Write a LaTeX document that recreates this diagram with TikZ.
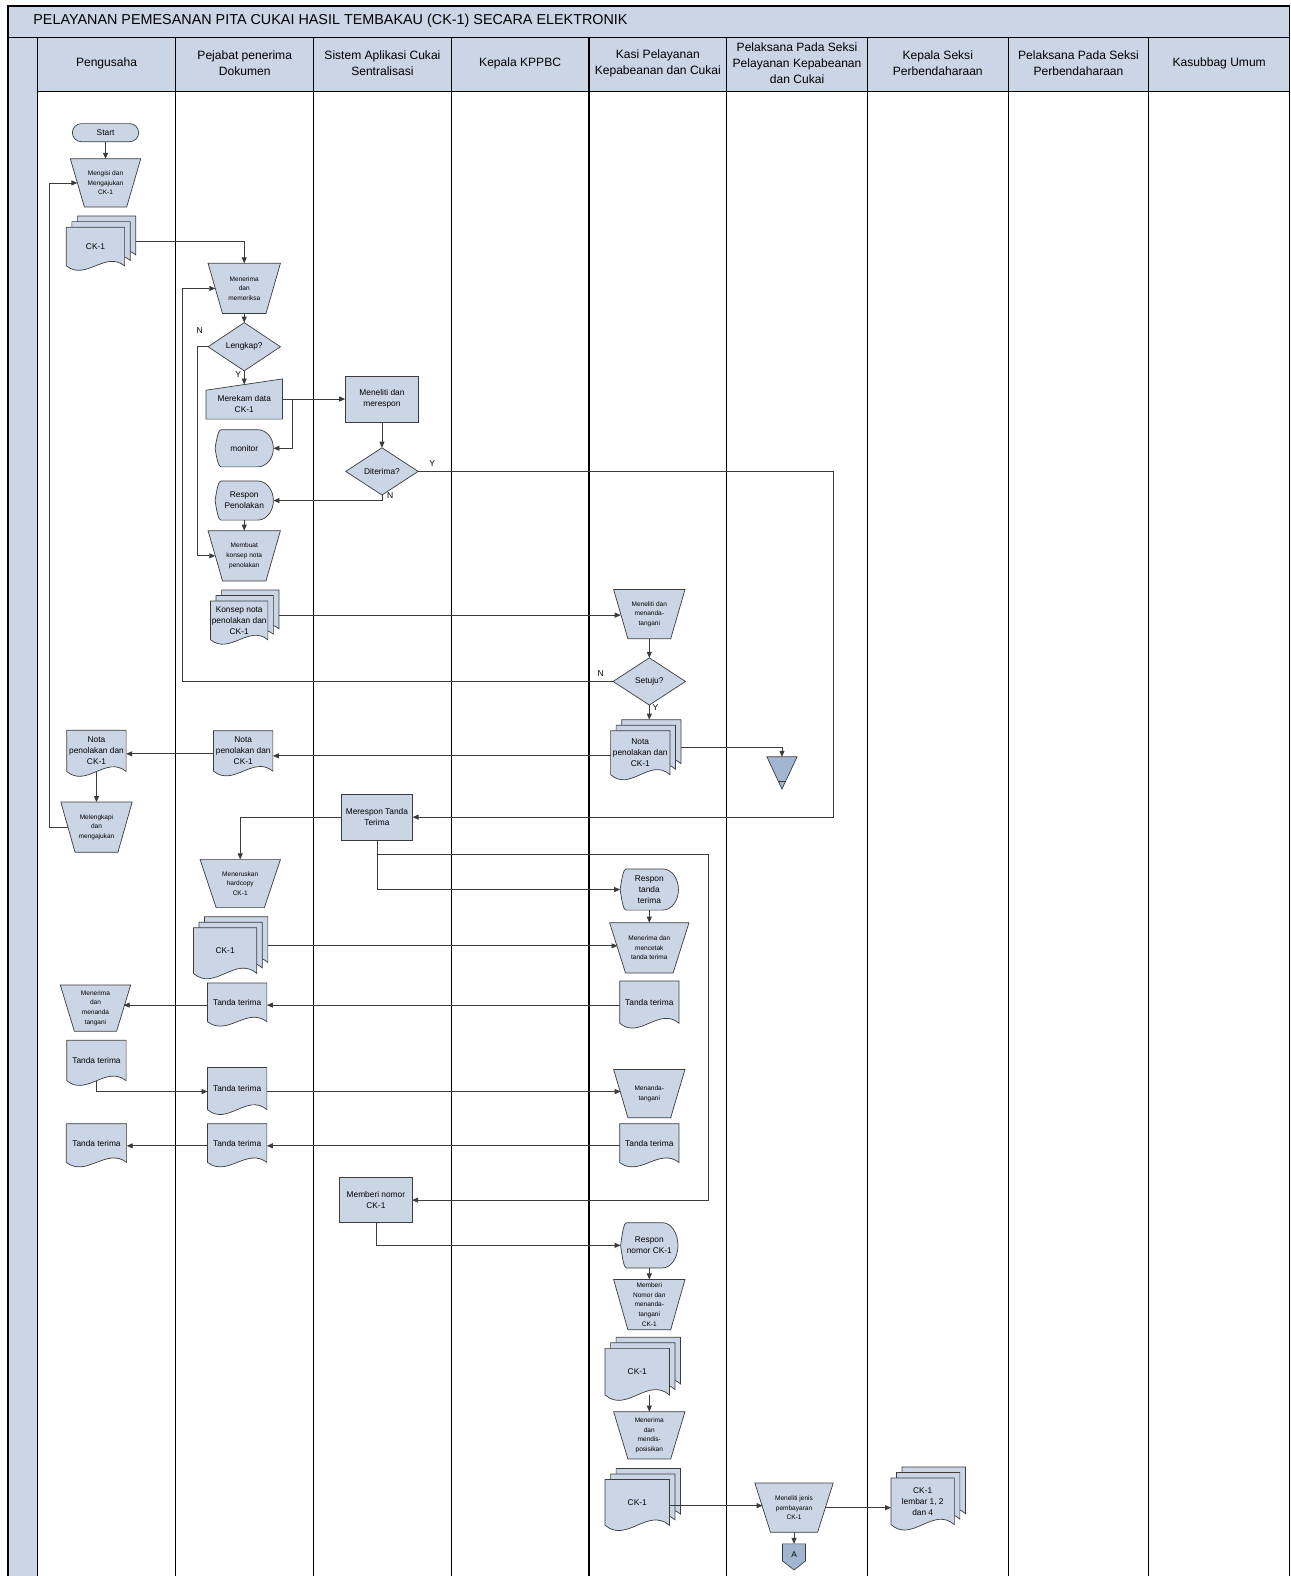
\documentclass[tikz,border=0pt]{standalone}
\usepackage{fontspec}
\setmainfont{Liberation Sans}
\usepackage{tikz}
\usetikzlibrary{shapes.geometric, arrows.meta, positioning, calc}
\definecolor{BPblue}{RGB}{202,214,230}
\definecolor{BPdark}{RGB}{163,182,209}
\definecolor{BPline}{RGB}{60,60,60}

% symbols drawn round a centre {x,y}, size {w}{h}
\newcommand{\manop}[5]{%
  \begin{scope}[shift={(#2)}]
    \filldraw[shp] (-#3/2,-#4/2) -- (#3/2,-#4/2) -- (0.3*#3,#4/2) -- (-0.3*#3,#4/2) -- cycle;
    \node[lbl, small, minimum width=#3pt, minimum height=#4pt] (#1) at (0,0) {#5};
    \coordinate (#1-w) at (-0.4*#3,0);
    \coordinate (#1-e) at (0.4*#3,0);
  \end{scope}}
\newcommand{\docshape}[5]{%
  \begin{scope}[shift={(#2)}]
    \filldraw[shp] (-#3/2,-#4/2) -- (#3/2,-#4/2) -- (#3/2,0.375*#4)
      .. controls (#3/6,0.025*#4) and (-#3/6,0.725*#4) .. (-#3/2,0.375*#4) -- cycle;
    \node[hold, minimum width=#3pt, minimum height=#4pt] (#1) at (0,0) {};
    \node[lbl] (#1-t) at (0,-0.06*#4) {#5};
    \coordinate (#1-s) at (0,0.375*#4);
  \end{scope}}
\newcommand{\multidoc}[5]{%
  \foreach \k in {11,5.5}
    \filldraw[shp, shift={(#2)}, shift={(\k,-\k)}] (-#3/2,-#4/2) -- (#3/2,-#4/2) -- (#3/2,0.375*#4)
      .. controls (#3/6,0.025*#4) and (-#3/6,0.725*#4) .. (-#3/2,0.375*#4) -- cycle;
  \docshape{#1}{#2}{#3}{#4}{#5}%
  \coordinate (#1-e) at ($(#2)+(#3/2+11,-8)$);
  \coordinate (#1-n) at ($(#2)+(11,-#4/2-11)$);}
\newcommand{\maninshape}[5]{%
  \begin{scope}[shift={(#2)}]
    \filldraw[shp] (-#3/2,-0.22*#4) -- (#3/2,-#4/2) -- (#3/2,#4/2) -- (-#3/2,#4/2) -- cycle;
    \node[hold, minimum width=#3pt, minimum height=#4pt] (#1) at (0,0) {};
    \node[lbl] (#1-t) at (0,0.12*#4) {#5};
    \coordinate (#1-n) at (0,-0.36*#4);
  \end{scope}}
\newcommand{\dispshape}[5]{%
  \begin{scope}[shift={(#2)}]
    \filldraw[shp] (-#3/2,0) .. controls (-0.47*#3,-0.3*#4) and (-0.44*#3,-0.5*#4) .. (-0.4*#3,-#4/2)
      -- (0.23*#3,-#4/2) arc[start angle=-90, end angle=90, x radius=0.27*#3, y radius=#4/2]
      -- (-0.4*#3,#4/2) .. controls (-0.44*#3,0.5*#4) and (-0.47*#3,0.3*#4) .. (-#3/2,0) -- cycle;
    \node[lbl, minimum width=#3pt, minimum height=#4pt] (#1) at (0,0) {#5};
  \end{scope}}
\newcommand{\storeshape}[4]{%
  \begin{scope}[shift={(#2)}]
    \filldraw[shp, fill=BPdark] (-#3/2,-#4/2) -- (#3/2,-#4/2) -- (0,#4/2) -- cycle;
    \draw[BPline, line width=0.7pt] (-0.125*#3,0.25*#4) -- (0.125*#3,0.25*#4);
    \node[hold, minimum width=#3pt, minimum height=#4pt] (#1) at (0,0) {};
  \end{scope}}
\newcommand{\offshape}[5]{%
  \begin{scope}[shift={(#2)}]
    \filldraw[shp, fill=BPdark] (-#3/2,-#4/2) -- (#3/2,-#4/2) -- (#3/2,0.15*#4) -- (0,#4/2) -- (-#3/2,0.15*#4) -- cycle;
    \node[hold, minimum width=#3pt, minimum height=#4pt] (#1) at (0,0) {};
    \node[lbl] (#1-t) at (0,-0.08*#4) {#5};
  \end{scope}}

\begin{document}
\begin{tikzpicture}[x=1pt, y=-1pt,
    shp/.style={fill=BPblue, draw=BPline, line width=0.7pt},
    hold/.style={inner sep=0pt, outer sep=0pt},
    lbl/.style={align=center, inner sep=0pt, outer sep=0pt, font=\fontsize{8.3}{11}\selectfont},
    small/.style={font=\fontsize{6.5}{9.6}\selectfont},
    process/.style={shp, lbl, rectangle},
    decision/.style={shp, lbl, diamond, aspect=1.5},
    terminal/.style={shp, lbl, rounded corners=9pt},
    yn/.style={inner sep=1pt, font=\fontsize{8.5}{10}\selectfont},
    head/.style={align=center, font=\fontsize{12}{16}\selectfont},
    lane/.style={draw=black, line width=1.1pt},
    flow/.style={draw=BPline, line width=0.8pt, -{Triangle[length=6pt,width=5pt]}}]

  \useasboundingbox (0,0) rectangle (1284,1568);
  \fill[BPblue] (8,6) rectangle (1283,91);
  \fill[BPblue] (8,91) rectangle (37,1568);
  \draw[lane] (8,1568) -- (8,6) -- (1283,6) -- (1283,1568);
  \draw[lane] (8,37) -- (1283,37) (37,91) -- (1283,91);
  \foreach \x in {37,175,312,449,586,723,863,1003,1143}
    \draw[lane] (\x,37) -- (\x,1568);

  \node[anchor=west, inner sep=0pt, font=\fontsize{14.3}{16}\selectfont] (title) at (33,21)
    {PELAYANAN PEMESANAN PITA CUKAI HASIL TEMBAKAU (CK-1) SECARA ELEKTRONIK};
  \foreach \x/\t [count=\i] in {106/Pengusaha, 243.5/{Pejabat penerima\\Dokumen},
      380.5/{Sistem Aplikasi Cukai\\Sentralisasi}, 517.5/Kepala KPPBC,
      654.5/{Kasi Pelayanan\\Kepabeanan dan Cukai},
      793/{Pelaksana Pada Seksi\\Pelayanan Kepabeanan\\dan Cukai},
      933/{Kepala Seksi\\Perbendaharaan}, 1073/{Pelaksana Pada Seksi\\Perbendaharaan},
      1213/Kasubbag Umum}
    \node[head] (lane\i) at (\x,63) {\t};

  % Pengusaha
  \node[terminal, minimum width=66pt, minimum height=18pt] (start) at (105,132) {Start};
  \manop{isi}{105,182}{70}{48}{Mengisi dan\\Mengajukan\\CK-1}
  \multidoc{ckA}{95,248}{58}{44}{CK-1}
  \docshape{notaU}{96,750}{59}{47}{Nota\\penolakan dan\\CK-1}
  \manop{lengkapi}{96,823}{71}{50}{Melengkapi\\dan\\mengajukan}
  \manop{ttdU}{95,1003}{70}{46}{Menerima\\dan\\menanda\\tangani}
  \docshape{ttU1}{96,1058}{59}{46}{Tanda terima}
  \docshape{ttU2}{96,1140}{60}{44}{Tanda terima}

  % Pejabat penerima Dokumen
  \manop{terima}{243,287}{72}{50}{Menerima\\dan\\memeriksa}
  \node[decision, minimum width=72pt, minimum height=48pt] (lengkap) at (243,345) {Lengkap?};
  \maninshape{rekam}{243,397}{76}{40}{Merekam data\\CK-1}
  \dispshape{monitor}{243,446}{58}{37}{monitor}
  \dispshape{tolak}{243,498}{58}{39}{Respon\\Penolakan}
  \manop{konsep}{243,553}{72}{50}{Membuat\\konsep nota\\penolakan}
  \multidoc{konsepdoc}{238,620}{57}{44}{Konsep nota\\penolakan dan\\CK-1}
  \docshape{notaP}{242,750}{59}{46}{Nota\\penolakan dan\\CK-1}
  \manop{teruskan}{239,879}{80}{48}{Meneruskan\\hardcopy\\CK-1}
  \multidoc{ckB}{224,949}{63}{52}{CK-1}
  \docshape{ttP1}{236,1000}{59}{44}{Tanda terima}
  \docshape{ttP2}{236,1086}{59}{48}{Tanda terima}
  \docshape{ttP3}{236,1140}{59}{44}{Tanda terima}

  % Sistem Aplikasi Cukai Sentralisasi
  \node[process, minimum width=73pt, minimum height=46pt] (teliti) at (380,397) {Meneliti dan\\merespon};
  \node[decision, minimum width=72pt, minimum height=47pt] (diterima) at (380,469) {Diterima?};
  \node[process, minimum width=71pt, minimum height=46pt] (respTT) at (375,813) {Merespon Tanda\\Terima};
  \node[process, minimum width=72pt, minimum height=45pt] (nomor) at (374,1194) {Memberi nomor\\CK-1};

  % Kasi Pelayanan Kepabeanan dan Cukai
  \manop{ttd}{646,611}{71}{49}{Meneliti dan\\menanda-\\tangani}
  \node[decision, minimum width=72pt, minimum height=47pt] (setuju) at (646,678) {Setuju?};
  \multidoc{notaK}{637,752}{59}{50}{Nota\\penolakan dan\\CK-1}
  \dispshape{respT}{646,885}{58}{41}{Respon\\tanda\\terima}
  \manop{cetak}{646,943}{79}{50}{Menerima dan\\mencetak\\tanda terima}
  \docshape{ttK1}{646,1000}{59}{48}{Tanda terima}
  \manop{ttdK}{646,1088}{71}{48}{Menanda-\\tangani}
  \docshape{ttK2}{646,1140}{59}{44}{Tanda terima}
  \dispshape{respN}{646,1239}{57}{45}{Respon\\nomor CK-1}
  \manop{beriN}{646,1298}{71}{50}{Memberi\\Nomor dan\\menanda-\\tangani\\CK-1}
  \multidoc{ckC}{634,1368}{64}{53}{CK-1}
  \manop{dispo}{646,1428}{71}{47}{Menerima\\dan\\mendis-\\posisikan}
  \multidoc{ckD}{634,1498}{64}{52}{CK-1}

  % Pelaksana Pelayanan, Kepala Seksi Perbendaharaan
  \storeshape{simpan}{778,769}{30}{32}
  \manop{jenis}{790,1500}{78}{49}{Meneliti jenis\\pembayaran\\CK-1}
  \offshape{offA}{790,1549}{23}{26}{A}
  \multidoc{ckE}{918,1497}{63}{53}{CK-1\\lembar 1, 2\\dan 4}

  % connectors
  \draw[flow] (start.south) -- (isi.north);
  \draw[flow] (ckA-e) -| (terima.north);
  \draw[flow] (lengkapi-w) -- ++(-18,0) |- (isi-w);
  \draw[flow] (terima.south) -- (lengkap.north);
  \draw[flow] (lengkap.west) -- ++(-11,0) |- (konsep-w);
  \draw[flow] (lengkap.south) -- (rekam-n);
  \draw[flow] (rekam.east) -- (teliti.west);
  \draw[flow] (rekam.east) -- ++(10,0) |- (monitor.east);
  \draw[flow] (teliti.south) -- (diterima.north);
  \draw[flow] (diterima.south) |- (tolak.east);
  \draw[flow] (diterima.east) -- ++(413,0) |- (respTT.east);
  \draw[flow] (tolak.south) -- (konsep.north);
  \draw[flow] (konsepdoc-e) -- (konsepdoc-e -| ttd-w);
  \draw[flow] (ttd.south) -- (setuju.north);
  \draw[flow] (setuju.west) -- ++(-429,0) |- (terima-w);
  \draw[flow] (setuju.south) -- (setuju.south |- notaK-n);
  \draw[flow] (notaK.west) -- (notaK.west -| notaP.east);
  \draw[flow] (notaP.west) -- (notaU.east);
  \draw[flow] (notaK-e) -| (simpan.north);
  \draw[flow] (notaU-s) -- (lengkapi.north);
  \draw[flow] (respTT.west) -| (teruskan.north);
  \draw[flow] (respTT.south) |- (respT.west);
  \draw[flow] ([yshift=-14pt]respTT.south) -- ++(330,0) |- (nomor.east);
  \draw[flow] (respT.south) -- (cetak.north);
  \draw[flow] (ckB-e) -- (ckB-e -| cetak-w);
  \draw[flow] (ttK1.west) -- (ttP1.east);
  \draw[flow] (ttP1.west) -- (ttP1.west -| ttdU-e);
  \draw[flow] (ttU1-s) |- (ttP2.west);
  \draw[flow] (ttP2.east) -- (ttP2.east -| ttdK-w);
  \draw[flow] (ttK2.west) -- (ttP3.east);
  \draw[flow] (ttP3.west) -- (ttU2.east);
  \draw[flow] (nomor.south) |- (respN.west);
  \draw[flow] (respN.south) -- (beriN.north);
  \draw[flow] (dispo.north |- ckC-s) -- (dispo.north);
  \draw[flow] (ckD.east) -- (ckD.east -| jenis-w);
  \draw[flow] (jenis-e) -- (jenis-e -| ckE.west);
  \draw[flow] (jenis.south) -- (offA.north);

  \node[yn, above left=12pt and 4pt of lengkap.west] (ynA) {N};
  \node[yn, below left=0pt and 2pt of lengkap.south] (ynB) {Y};
  \node[yn, above right=4pt and 10pt of diterima.east] (ynC) {Y};
  \node[yn, below right=-4pt and 4pt of diterima.south] (ynD) {N};
  \node[yn, above left=4pt and 8pt of setuju.west] (ynE) {N};
  \node[yn, below right=-2pt and 2pt of setuju.south] (ynF) {Y};
\end{tikzpicture}
\end{document}
